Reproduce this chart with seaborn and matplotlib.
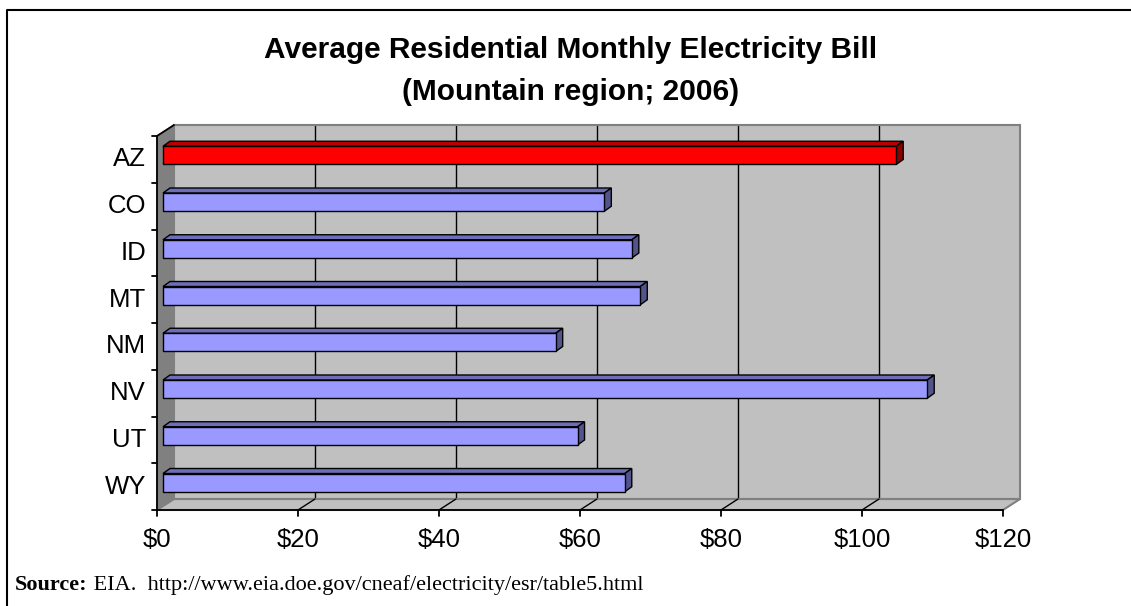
import matplotlib
matplotlib.use("Agg")
import matplotlib.pyplot as plt
import seaborn as sns
from matplotlib.patches import Polygon
from matplotlib.lines import Line2D
from matplotlib.transforms import Affine2D, IdentityTransform
from matplotlib.colors import to_rgb

# data
states = ["AZ", "CO", "ID", "MT", "NM", "NV", "UT", "WY"]
bills = [104.0, 62.6, 66.5, 67.7, 55.7, 108.4, 58.8, 65.5]
bar_colors = ["#FF0000"] + ["#9999FF"] * 7
x_ticks = [0, 20, 40, 60, 80, 100, 120]
x_labels = ["$0", "$20", "$40", "$60", "$80", "$100", "$120"]

W, H = 1131, 606
FRONT = (-17, -11)   # floor / left wall depth (pixels)
BAR = (-11, -7)      # bar front face offset from back wall
DEPTH = (7, 5)       # bar depth

sns.set_theme(style="white")
plt.rcParams["font.family"] = ["Liberation Sans", "DejaVu Sans"]
plt.rcParams["text.color"] = "black"

fig = plt.figure(figsize=(W / 100, H / 100), dpi=100)
ax = fig.add_axes([174 / W, 1 - 499 / H, 846 / W, 374 / H])
ax.set_facecolor("#C0C0C0")

sns.barplot(x=bills, y=states, hue=states, palette=bar_colors, legend=False,
            width=0.39, saturation=1, edgecolor="black", linewidth=1,
            ax=ax, zorder=3)

ax.set_xlim(0, 120)
ax.set_ylim(7.5, -0.5)
ax.set_xticks([20, 40, 60, 80, 100])
ax.set_yticks([])
ax.tick_params(length=0, labelbottom=False, labelleft=False)
ax.set_xlabel("")
ax.set_ylabel("")
ax.set_axisbelow(True)
ax.grid(axis="x", color="black", linewidth=1)
ax.grid(axis="y", visible=False)
for s in ax.spines.values():
    s.set_color("#808080")
    s.set_linewidth(1.5)

ident = IdentityTransform()
front_tr = ax.transData + Affine2D().translate(*FRONT)
bar_tr = ax.transData + Affine2D().translate(*BAR)


def shade(c, f):
    r, g, b = to_rgb(c)
    return (r * f, g * f, b * f)


# 3D bar faces
for p in ax.patches:
    idx = int(round(p.get_y() + p.get_height() / 2))
    col = bar_colors[idx]
    p.set_transform(bar_tr)
    p.set_clip_on(False)
    (x0, y0), (x1, y1) = bar_tr.transform(
        [(p.get_x(), p.get_y()), (p.get_x() + p.get_width(), p.get_y() + p.get_height())])
    left, right = min(x0, x1), max(x0, x1)
    bot, top = min(y0, y1), max(y0, y1)
    dx, dy = DEPTH
    top_face = [(left, top), (right, top), (right + dx, top + dy), (left + dx, top + dy)]
    side_face = [(right, bot), (right + dx, bot + dy), (right + dx, top + dy), (right, top)]
    ax.add_patch(Polygon(top_face, closed=True, facecolor=shade(col, 0.72),
                         edgecolor="black", linewidth=1, transform=ident,
                         clip_on=False, zorder=2.9))
    ax.add_patch(Polygon(side_face, closed=True, facecolor=shade(col, 0.55),
                         edgecolor="black", linewidth=1, transform=ident,
                         clip_on=False, zorder=2.9))

# walls and floor
bl, tl, br = ax.transAxes.transform([(0, 0), (0, 1), (1, 0)])
fx, fy = FRONT
fbl = (bl[0] + fx, bl[1] + fy)
ftl = (tl[0] + fx, tl[1] + fy)
fbr = (br[0] + fx, br[1] + fy)

ax.add_patch(Polygon([tuple(tl), tuple(bl), fbl, ftl], closed=True,
                     facecolor="#808080", edgecolor="#808080", linewidth=1,
                     transform=ident, clip_on=False, zorder=2.5))
ax.add_patch(Polygon([tuple(bl), tuple(br), fbr, fbl], closed=True,
                     facecolor="#C0C0C0", edgecolor="#808080", linewidth=1.5,
                     transform=ident, clip_on=False, zorder=2.5))

# grid lines continuing across the floor
for v in [20, 40, 60, 80, 100]:
    bx, by = ax.transData.transform((v, 7.5))
    ax.add_line(Line2D([bx, bx + fx], [by, by + fy], color="black",
                       linewidth=1, transform=ident, clip_on=False, zorder=2.6))

# axis lines
fig.add_artist(Line2D([fbl[0], fbr[0]], [fbl[1], fbr[1]], color="black",
                      linewidth=1.3, transform=ident))
fig.add_artist(Line2D([tl[0], ftl[0], fbl[0]], [tl[1], ftl[1], fbl[1]],
                      color="black", linewidth=1.3, transform=ident))

# x ticks and labels
for v, lab in zip(x_ticks, x_labels):
    tx, ty = front_tr.transform((v, 7.5))
    fig.add_artist(Line2D([tx, tx], [ty, ty - 6], color="black",
                          linewidth=1.3, transform=ident))
    fig.text(tx, ty - 30, lab, transform=ident, ha="center", va="center",
             fontsize=18.5)

# y ticks and labels
for k in range(len(states) + 1):
    tx, ty = front_tr.transform((0, k - 0.5))
    fig.add_artist(Line2D([tx - 5, tx], [ty, ty], color="black",
                          linewidth=1.3, transform=ident))
for k, st in enumerate(states):
    tx, ty = front_tr.transform((0, k))
    fig.text(tx - 11, ty, st, transform=ident, ha="right", va="center",
             fontsize=18.5)

# titles
fig.text(571 / W, 1 - 58 / H, "Average Residential Monthly Electricity Bill",
         ha="center", va="baseline", fontsize=21.5, fontweight="bold")
fig.text(571 / W, 1 - 100 / H, "(Mountain region; 2006)",
         ha="center", va="baseline", fontsize=21.5, fontweight="bold")

# source note
t1 = fig.text(15 / W, 1 - 590 / H, "Source:", family=["Liberation Serif"],
              fontweight="bold", fontsize=16, va="baseline")
ax.annotate(" EIA.  http://www.eia.doe.gov/cneaf/electricity/esr/table5.html",
            xy=(1, 0), xycoords=t1, va="bottom", ha="left",
            family=["Liberation Serif"], fontsize=16, annotation_clip=False)

# chart border (top and left visible)
fig.add_artist(Line2D([7, 7, W], [0, H - 10, H - 10], color="black",
                      linewidth=1.5, transform=ident))

fig.savefig("out.png", dpi=100)
